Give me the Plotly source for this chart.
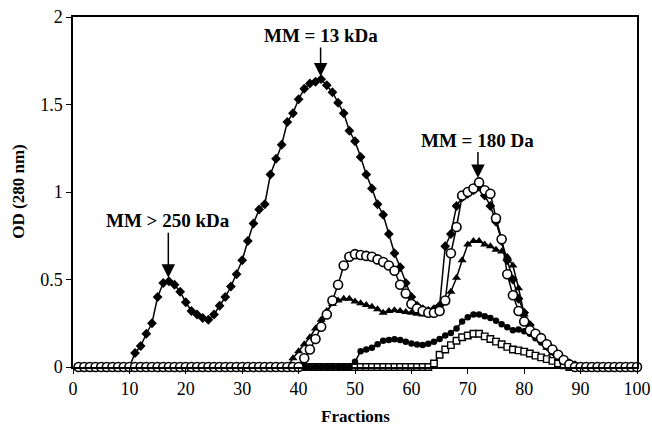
import plotly.graph_objects as go

# Fraction numbers 1..100
fractions = list(range(1, 101))

# OD (280 nm) per fraction for each elution profile (zeros outside the eluting range)
profile_diamond = (
    [0.0] * 10
    + [0.08, 0.12, 0.19, 0.25, 0.40, 0.48, 0.49, 0.47, 0.43, 0.37,   # 11-20
       0.32, 0.30, 0.28, 0.27, 0.30, 0.35, 0.40, 0.46, 0.53, 0.61,   # 21-30
       0.72, 0.82, 0.90, 0.93, 1.10, 1.19, 1.27, 1.40, 1.45, 1.53,   # 31-40
       1.59, 1.62, 1.63, 1.645, 1.61, 1.57, 1.51, 1.45, 1.35, 1.29, # 41-50
       1.20, 1.10, 1.02, 0.93, 0.87, 0.76, 0.65, 0.57, 0.48, 0.40,   # 51-60
       0.35, 0.33, 0.32, 0.33, 0.35, 0.69, 0.76, 0.92, 0.97, 0.99,   # 61-70
       1.01, 1.03, 0.98, 0.92, 0.83, 0.72, 0.61, 0.50, 0.39, 0.31,   # 71-80
       0.24, 0.19, 0.16, 0.12, 0.09, 0.06, 0.04, 0.02, 0.01]         # 81-89
    + [0.0] * 11
)

profile_square = (
    [0.0] * 63
    + [0.02, 0.07, 0.10, 0.125, 0.15, 0.17, 0.18,                    # 64-70
       0.19, 0.19, 0.175, 0.16, 0.145, 0.13, 0.115, 0.10, 0.095, 0.088,  # 71-80
       0.077, 0.065, 0.055, 0.045, 0.035, 0.02, 0.01]                # 81-87
    + [0.0] * 13
)

profile_dot = (
    [0.0] * 49
    + [0.03,                                                          # 50
       0.09, 0.10, 0.11, 0.13, 0.15, 0.155, 0.158, 0.155, 0.145, 0.135,  # 51-60
       0.128, 0.126, 0.133, 0.145, 0.16, 0.18, 0.195, 0.22, 0.26, 0.285,  # 61-70
       0.30, 0.30, 0.29, 0.28, 0.265, 0.245, 0.227, 0.21, 0.215, 0.205,   # 71-80
       0.19, 0.165, 0.14, 0.115, 0.09, 0.065, 0.04, 0.025, 0.015, 0.005]  # 81-90
    + [0.0] * 10
)

profile_triangle = (
    [0.0] * 38
    + [0.05, 0.09,                                                    # 39-40
       0.13, 0.17, 0.22, 0.27, 0.32, 0.36, 0.38, 0.39, 0.39, 0.375,  # 41-50
       0.365, 0.355, 0.345, 0.33, 0.31, 0.32, 0.325, 0.32, 0.315, 0.31,  # 51-60
       0.305, 0.30, 0.30, 0.31, 0.33, 0.37, 0.43, 0.51, 0.61, 0.70,  # 61-70
       0.72, 0.72, 0.70, 0.69, 0.67, 0.66, 0.63, 0.58, 0.45, 0.30,   # 71-80
       0.22, 0.18, 0.15, 0.11, 0.08, 0.05, 0.03, 0.01]               # 81-88
    + [0.0] * 12
)

profile_circle = (
    [0.0] * 40
    + [0.05, 0.10, 0.16, 0.23, 0.30, 0.38, 0.47, 0.58, 0.63, 0.645, # 41-50
       0.64, 0.635, 0.63, 0.615, 0.60, 0.58, 0.55, 0.47, 0.42, 0.36, # 51-60
       0.335, 0.32, 0.31, 0.31, 0.32, 0.38, 0.65, 0.80, 0.98, 1.00,  # 61-70
       1.02, 1.055, 1.01, 0.99, 0.85, 0.73, 0.53, 0.41, 0.32, 0.26,  # 71-80
       0.21, 0.19, 0.165, 0.13, 0.10, 0.07, 0.04, 0.015]             # 81-88
    + [0.0] * 12
)

# Peak labels: (text, fraction, OD at arrow tip, vertical offset of label in px)
peak_labels = [
    ("MM > 250 kDa", 16.9, 0.51, -57),
    ("MM = 13 kDa", 43.9, 1.66, -41),
    ("MM = 180 Da", 71.8, 1.08, -38),
]

SERIF = "Liberation Serif, Times New Roman, serif"
LINE = dict(color="black", width=1.5)

fig = go.Figure()

fig.add_trace(go.Scatter(
    x=fractions, y=profile_diamond, mode="lines+markers", line=LINE,
    marker=dict(symbol="diamond", size=7.5, color="black"), cliponaxis=False))
fig.add_trace(go.Scatter(
    x=fractions, y=profile_square, mode="lines+markers", line=LINE,
    marker=dict(symbol="square", size=6.5, color="white",
                line=dict(color="black", width=1.4)), cliponaxis=False))
fig.add_trace(go.Scatter(
    x=fractions, y=profile_dot, mode="lines+markers", line=LINE,
    marker=dict(symbol="circle", size=6.5, color="black"), cliponaxis=False))
fig.add_trace(go.Scatter(
    x=fractions, y=profile_triangle, mode="lines+markers", line=LINE,
    marker=dict(symbol="triangle-up", size=8, color="black"), cliponaxis=False))
fig.add_trace(go.Scatter(
    x=fractions, y=profile_circle, mode="lines+markers", line=LINE,
    marker=dict(symbol="circle", size=9, color="white",
                line=dict(color="black", width=1.6)), cliponaxis=False))

for text, fx, fy, off in peak_labels:
    fig.add_annotation(
        x=fx, y=fy, text=f"<b>{text}</b>", showarrow=True,
        ax=0, ay=off, arrowhead=2, arrowsize=1.8, arrowwidth=1.5,
        arrowcolor="black", font=dict(family=SERIF, size=19, color="black"))

# Axis titles placed relative to the plotting area
fig.add_annotation(
    xref="paper", yref="paper", x=0.5, y=-0.14, yanchor="middle",
    text="<b>Fractions</b>", showarrow=False,
    font=dict(family=SERIF, size=17, color="black"))
fig.add_annotation(
    xref="paper", yref="paper", x=-0.098, y=0.5, xanchor="center", yanchor="middle",
    text="<b>OD (280 nm)</b>", textangle=-90, showarrow=False,
    font=dict(family=SERIF, size=17, color="black"))

fig.update_layout(
    width=652, height=428,
    margin=dict(l=73, r=15, t=17, b=61, autoexpand=False),
    paper_bgcolor="white", plot_bgcolor="white",
    showlegend=False,
    font=dict(family=SERIF, size=18, color="black"),
)
fig.update_xaxes(
    range=[0, 100], dtick=10, tick0=0, automargin=False,
    showline=True, linecolor="black", linewidth=1.5, mirror=True,
    ticks="outside", ticklen=5, tickwidth=1.2, tickcolor="black",
    showgrid=False, zeroline=False,
)
fig.update_yaxes(
    range=[0, 2], dtick=0.5, tick0=0, automargin=False,
    showline=True, linecolor="black", linewidth=1.5, mirror=True,
    ticks="outside", ticklen=5, tickwidth=1.2, tickcolor="black",
    showgrid=False, zeroline=False,
)

fig.write_html("out.html")
